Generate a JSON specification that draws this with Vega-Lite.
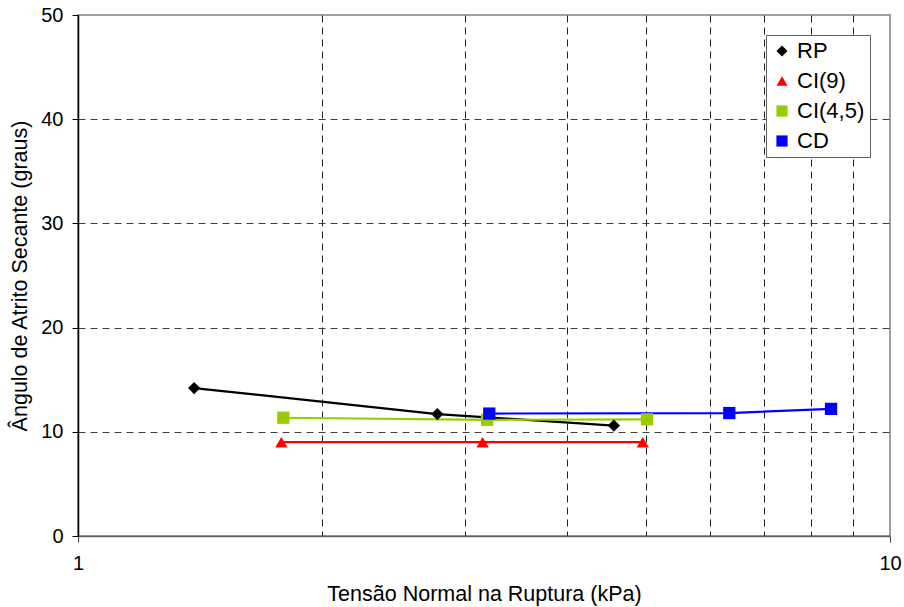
{
  "$schema": "https://vega.github.io/schema/vega-lite/v6.json",
  "width": 812,
  "height": 521,
  "autosize": "none",
  "padding": {"left": 78, "top": 15, "right": 14, "bottom": 71},
  "background": "white",
  "config": {
    "font": "Liberation Sans",
    "view": {"stroke": "#808080", "strokeWidth": 1.5}
  },
  "data": {
    "values": [
      {"serie": "RP", "x": 1.39, "y": 14.2},
      {"serie": "RP", "x": 2.77, "y": 11.7},
      {"serie": "RP", "x": 4.57, "y": 10.6},
      {"serie": "CI(9)", "x": 1.78, "y": 9.0},
      {"serie": "CI(9)", "x": 3.15, "y": 9.0},
      {"serie": "CI(9)", "x": 4.96, "y": 9.0},
      {"serie": "CI(4,5)", "x": 1.79, "y": 11.35},
      {"serie": "CI(4,5)", "x": 3.19, "y": 11.15},
      {"serie": "CI(4,5)", "x": 5.02, "y": 11.2},
      {"serie": "CD", "x": 3.21, "y": 11.75},
      {"serie": "CD", "x": 6.34, "y": 11.8},
      {"serie": "CD", "x": 8.46, "y": 12.2}
    ]
  },
  "encoding": {
    "x": {
      "field": "x",
      "type": "quantitative",
      "scale": {"type": "log", "domain": [1, 10], "nice": false},
      "axis": {
        "values": [1, 2, 3, 4, 5, 6, 7, 8, 9, 10],
        "labelExpr": "datum.value == 1 || datum.value == 10 ? datum.label : ''",
        "format": "d",
        "labelFontSize": 20,
        "labelColor": "black",
        "labelPadding": 11,
        "labelFlush": false,
        "labelOverlap": false,
        "tickSize": 6,
        "tickColor": "#404040",
        "tickOpacity": {"condition": {"test": "datum.value == 1 || datum.value == 10", "value": 1}, "value": 0},
        "domainColor": "#606060",
        "domainWidth": 1.5,
        "grid": true,
        "gridColor": "#202020",
        "gridDash": [7, 5],
        "gridWidth": 1,
        "gridOpacity": {"condition": {"test": "datum.value == 1 || datum.value == 10", "value": 0}, "value": 1},
        "title": "Tensão Normal na Ruptura (kPa)",
        "titleFontSize": 21.5,
        "titleFontWeight": "normal",
        "titleColor": "black",
        "titlePadding": 10
      }
    },
    "y": {
      "field": "y",
      "type": "quantitative",
      "scale": {"domain": [0, 50], "nice": false},
      "axis": {
        "values": [0, 10, 20, 30, 40, 50],
        "labelFontSize": 20,
        "labelColor": "black",
        "labelPadding": 9,
        "labelFlush": false,
        "tickSize": 6,
        "tickColor": "black",
        "domainColor": "black",
        "domainWidth": 1.5,
        "grid": true,
        "gridColor": "#404040",
        "gridDash": [7, 5],
        "gridWidth": 1,
        "gridOpacity": {"condition": {"test": "datum.value == 0 || datum.value == 50", "value": 0}, "value": 1},
        "title": "Ângulo de Atrito Secante (graus)",
        "titleFontSize": 21.5,
        "titleFontWeight": "normal",
        "titleColor": "black",
        "titlePadding": 9
      }
    },
    "color": {
      "field": "serie",
      "type": "nominal",
      "scale": {"domain": ["RP", "CI(9)", "CI(4,5)", "CD"], "range": ["#000000", "#FF0000", "#99CC00", "#0000FF"]},
      "legend": {
        "title": null,
        "orient": "none",
        "legendX": 688,
        "legendY": 20,
        "padding": 5,
        "strokeColor": "#606060",
        "fillColor": "white",
        "labelFontSize": 22,
        "labelColor": "black",
        "symbolSize": 125,
        "symbolOpacity": 1,
        "symbolStrokeWidth": 0,
        "rowPadding": 8,
        "labelOffset": 4
      }
    }
  },
  "layer": [
    {
      "mark": {"type": "line", "strokeWidth": 2.2},
      "encoding": {
        "detail": {"field": "serie"}
      }
    },
    {
      "mark": {"type": "point", "filled": true, "opacity": 1, "size": 150},
      "encoding": {
        "shape": {
          "field": "serie",
          "type": "nominal",
          "scale": {"domain": ["RP", "CI(9)", "CI(4,5)", "CD"], "range": ["diamond", "triangle-up", "square", "square"]}
        }
      }
    }
  ]
}
